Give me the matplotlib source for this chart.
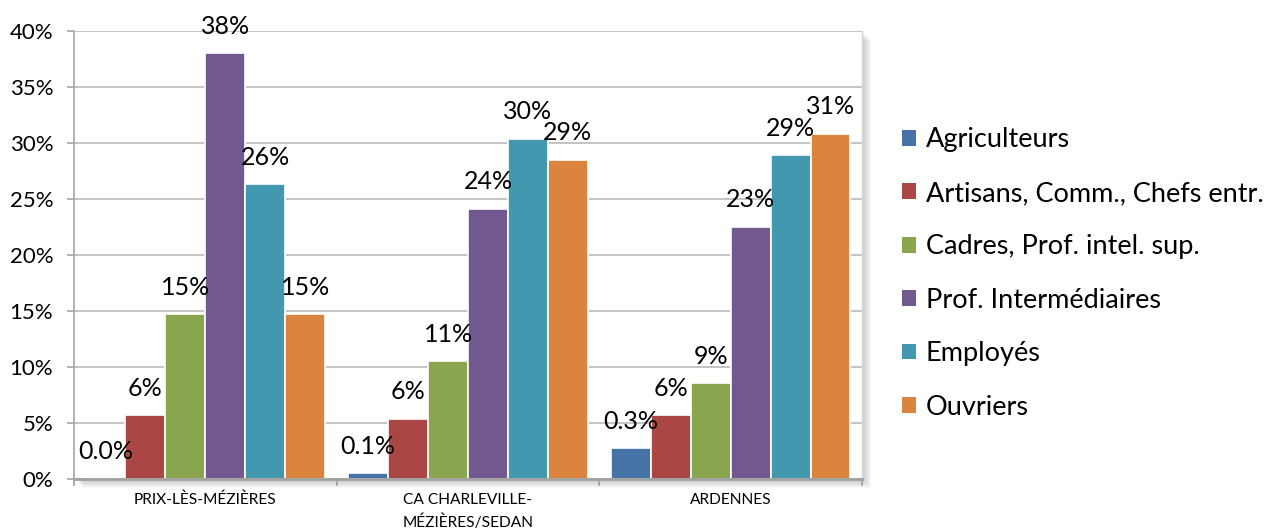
import matplotlib
matplotlib.use('Agg')
import matplotlib.pyplot as plt
from matplotlib.patches import Patch, Rectangle
import numpy as np

plt.rcParams['font.family'] = ['Lato', 'DejaVu Sans']

categories = ['PRIX-LÈS-MÉZIÈRES', 'CA CHARLEVILLE-\nMÉZIÈRES/SEDAN', 'ARDENNES']
series = ['Agriculteurs', 'Artisans, Comm., Chefs entr.', 'Cadres, Prof. intel. sup.',
          'Prof. Intermédiaires', 'Employés', 'Ouvriers']
colors = ['#4572A7', '#AA4643', '#89A54E', '#71588F', '#4198AF', '#DB843D']

# bar heights (%) as drawn, per series: [Prix, CA, Ardennes]
agriculteurs = [0.0, 0.5, 2.75]
artisans = [5.7, 5.35, 5.7]
cadres = [14.7, 10.5, 8.55]
intermediaires = [38.0, 24.1, 22.5]
employes = [26.3, 30.4, 28.9]
ouvriers = [14.7, 28.5, 30.8]
values = [agriculteurs, artisans, cadres, intermediaires, employes, ouvriers]

# data labels as printed on the chart
lab_agri = ['0.0%', '0.1%', '0.3%']
lab_art = ['6%', '6%', '6%']
lab_cad = ['15%', '11%', '9%']
lab_int = ['38%', '24%', '23%']
lab_emp = ['26%', '30%', '29%']
lab_ouv = ['15%', '29%', '31%']
labels = [lab_agri, lab_art, lab_cad, lab_int, lab_emp, lab_ouv]

yticks = [0, 5, 10, 15, 20, 25, 30, 35, 40]

fig = plt.figure(figsize=(12.65, 5.32), dpi=100)
ax = fig.add_axes([74 / 1265, 53 / 532, 788 / 1265, 448 / 532])
ax.set_zorder(1)

# drop shadow of the plot area (right and bottom)
W, H = 1265, 532
x0, y0, w, h = 74, 53, 788, 448
for s in range(1, 10):
    fig.patches.append(Rectangle(((x0 + s) / W, (y0 - s) / H), w / W, h / H,
                                 transform=fig.transFigure, facecolor='#808080',
                                 edgecolor='none', alpha=0.05, zorder=0))

x = np.arange(len(categories))
step = 0.152
for i, (vals, labs) in enumerate(zip(values, labels)):
    pos = x + (i - 2.5) * step
    ax.bar(pos, vals, width=step, color=colors[i], edgecolor='white', linewidth=1.2,
           label=series[i], zorder=2)
    for px, v, t in zip(pos, vals, labs):
        ax.annotate(t, (px, v), xytext=(0, 19.5), textcoords='offset points',
                    ha='center', va='center', fontsize=18, zorder=3)

ax.set_xlim(-0.5, 2.5)
ax.set_ylim(0, 40)
ax.set_yticks(yticks)
ax.set_yticklabels([f'{t}%' for t in yticks], fontsize=16)
ax.set_axisbelow(True)
ax.yaxis.grid(True, color='#C4C4C4', linewidth=1.4)
ax.tick_params(axis='y', length=5, width=1.2, color='#A6A6A6', pad=10)

ax.set_xticks(x)
ax.set_xticklabels(categories, fontsize=11.2)
for lbl in ax.get_xticklabels():
    lbl.set_linespacing(1.6)
ax.set_xticks([-0.5, 0.5, 1.5, 2.5], minor=True)
ax.tick_params(axis='x', which='major', length=0, pad=10)
ax.tick_params(axis='x', which='minor', length=5, width=1.2, color='#A0A0A0')

ax.spines['top'].set_visible(False)
ax.spines['right'].set_color('#D6D6D6')
ax.spines['right'].set_linewidth(1)
ax.spines['left'].set_color('#A6A6A6')
ax.spines['left'].set_linewidth(1.2)
ax.spines['bottom'].set_color('#A0A0A0')
ax.spines['bottom'].set_linewidth(2)

handles = [Patch(facecolor=c, edgecolor='none') for c in colors]
fig.legend(handles, series, loc='center left', bbox_to_anchor=(902 / W, 1 - 273.5 / H),
           frameon=False, fontsize=19.5, handlelength=0.52, handleheight=0.52,
           handletextpad=0.35, labelspacing=1.05, borderpad=0, borderaxespad=0)

fig.savefig('out.png', dpi=100)
